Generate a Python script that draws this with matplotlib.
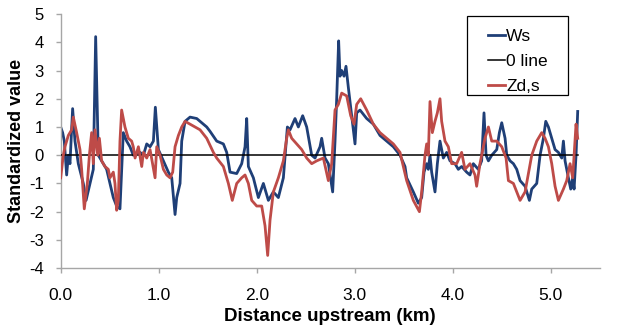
import matplotlib
matplotlib.use("Agg")
import matplotlib.pyplot as plt
from matplotlib.patches import Rectangle

plt.rcParams['font.family'] = ['Liberation Sans', 'DejaVu Sans']
plt.rcParams['axes.unicode_minus'] = False

ws_km = [0.000, 0.020, 0.037, 0.061, 0.078, 0.095, 0.122, 0.146, 0.180, 0.231, 0.259, 0.299, 0.333,
         0.357, 0.384, 0.435, 0.469, 0.503, 0.537, 0.571, 0.605, 0.639, 0.673, 0.707, 0.741, 0.810,
         0.844, 0.878, 0.912, 0.946, 0.966, 0.997, 1.048, 1.099, 1.133, 1.167, 1.184, 1.218, 1.235,
         1.269, 1.320, 1.388, 1.490, 1.523, 1.592, 1.660, 1.694, 1.728, 1.796, 1.847, 1.881, 1.898,
         1.915, 1.966, 2.017, 2.068, 2.119, 2.170, 2.221, 2.272, 2.313, 2.340, 2.391, 2.425, 2.469,
         2.510, 2.561, 2.595, 2.646, 2.663, 2.697, 2.731, 2.775, 2.799, 2.816, 2.836, 2.850, 2.867,
         2.891, 2.911, 2.935, 2.969, 3.003, 3.020, 3.054, 3.122, 3.190, 3.258, 3.326, 3.394, 3.462,
         3.513, 3.530, 3.598, 3.649, 3.683, 3.707, 3.734, 3.751, 3.768, 3.785, 3.819, 3.843, 3.870,
         3.904, 3.938, 3.972, 4.023, 4.057, 4.091, 4.142, 4.176, 4.210, 4.261, 4.295, 4.319, 4.340,
         4.364, 4.398, 4.449, 4.476, 4.500, 4.534, 4.551, 4.585, 4.619, 4.653, 4.687, 4.738, 4.782,
         4.806, 4.857, 4.891, 4.925, 4.949, 4.976, 5.010, 5.044, 5.078, 5.112, 5.129, 5.146, 5.180,
         5.204, 5.224, 5.238, 5.258, 5.275]
ws_val = [1.0, 0.8, 0.5, -0.7, 0.0, -0.3, 1.65, 0.5, -0.3, -1.0, -1.6, -1.0, -0.5,
          4.2, 0.0, -0.3, -0.5, -1.0, -1.5, -1.8, -1.9, 0.8, 0.5, 0.3, 0.0, 0.1,
          0.0, 0.4, 0.3, 0.5, 1.7, 0.2, -0.2, -0.6, -0.8, -2.1, -1.5, -1.0, 0.5,
          1.2, 1.35, 1.3, 1.0, 0.85, 0.5, 0.4, 0.1, -0.6, -0.65, -0.3, 0.3, 1.3,
          -0.4, -0.8, -1.5, -1.0, -1.6, -1.3, -1.5, -0.8, 1.0, 0.9, 1.3, 1.0, 1.4,
          1.0, 0.0, -0.1, 0.3, 0.6, -0.1, -0.3, -1.3, 0.5, 2.0, 4.05, 2.8, 3.0,
          2.8, 3.15, 2.4, 1.4, 0.4, 1.5, 1.6, 1.3, 1.1, 0.7, 0.5, 0.3, 0.0,
          -0.4, -0.8, -1.3, -1.7, -1.5, -0.6, -0.3, -0.5, 0.0, -0.6, -1.3, -0.3, 0.5,
          -0.1, 0.1, -0.2, -0.3, -0.5, -0.4, -0.6, -0.7, -0.3, -0.5, -0.2, 1.5, 0.0,
          -0.2, 0.0, 0.2, 0.8, 1.15, 0.6, 0.0, -0.2, -0.3, -0.5, -0.9, -1.1, -1.6,
          -1.2, -1.0, 0.0, 0.6, 1.2, 1.0, 0.6, 0.2, 0.1, -0.1, 0.5, -0.2, -0.8,
          -1.2, -0.8, -1.2, 0.0, 1.55]

zd_km = [0.000, 0.027, 0.044, 0.078, 0.112, 0.129, 0.163, 0.197, 0.214, 0.241, 0.272, 0.293, 0.316,
         0.333, 0.350, 0.378, 0.395, 0.418, 0.452, 0.486, 0.503, 0.537, 0.554, 0.571, 0.588, 0.605,
         0.622, 0.656, 0.690, 0.724, 0.741, 0.759, 0.793, 0.827, 0.844, 0.878, 0.912, 0.963, 0.980,
         1.014, 1.048, 1.082, 1.116, 1.143, 1.167, 1.201, 1.235, 1.269, 1.320, 1.422, 1.490, 1.558,
         1.592, 1.660, 1.711, 1.751, 1.796, 1.847, 1.881, 1.915, 1.949, 2.000, 2.051, 2.085, 2.112,
         2.136, 2.170, 2.221, 2.272, 2.306, 2.323, 2.357, 2.408, 2.459, 2.510, 2.561, 2.612, 2.680,
         2.731, 2.765, 2.799, 2.833, 2.867, 2.918, 2.959, 2.993, 3.020, 3.061, 3.122, 3.190, 3.258,
         3.326, 3.394, 3.462, 3.530, 3.598, 3.660, 3.683, 3.717, 3.734, 3.751, 3.768, 3.792, 3.819,
         3.843, 3.870, 3.887, 3.921, 3.955, 3.989, 4.040, 4.091, 4.125, 4.176, 4.227, 4.244, 4.278,
         4.329, 4.364, 4.398, 4.449, 4.500, 4.544, 4.568, 4.619, 4.653, 4.687, 4.738, 4.806, 4.857,
         4.908, 4.942, 4.976, 5.010, 5.044, 5.078, 5.129, 5.163, 5.197, 5.224, 5.238, 5.258, 5.275]
zd_val = [-0.8, 0.0, 0.3, 0.7, 0.9, 1.35, 0.8, 0.2, -0.5, -1.9, -1.0, 0.0, 0.8,
          -0.3, 0.9, 0.0, 0.6, -0.2, -0.4, -0.5, -0.8, -0.6, -1.0, -1.95, -1.6, 0.5,
          1.6, 1.0, 0.6, 0.5, 0.3, -0.1, 0.3, -0.4, 0.1, -0.1, 0.2, -0.8, 0.3,
          0.0, -0.5, -0.7, -0.8, -0.6, 0.3, 0.7, 1.0, 1.2, 1.1, 0.9, 0.6, 0.1,
          -0.1, -0.4, -1.0, -1.6, -1.0, -0.8, -0.7, -1.0, -1.6, -1.8, -1.8, -2.5, -3.55,
          -2.3, -1.3, -0.8, -0.2, 0.6, 0.9, 0.6, 0.4, 0.2, -0.1, -0.3, -0.2, -0.1,
          -0.9, -0.3, 1.6, 1.8, 2.2, 2.1, 1.4, 1.1, 1.8, 2.0, 1.6, 1.1, 0.8,
          0.6, 0.4, 0.1, -0.9, -1.6, -2.0, -1.3, 0.0, 0.4, 0.0, 1.9, 0.8, 1.2,
          1.5, 2.0, 1.2, 0.5, 0.3, -0.3, -0.3, 0.1, -0.5, -0.3, -0.7, -1.1, -0.3,
          0.6, 1.0, 0.5, 0.5, 0.3, -0.1, -0.9, -1.0, -1.3, -1.6, -1.3, 0.0, 0.5,
          0.8, 0.6, 0.3, -0.3, -1.1, -1.6, -1.2, -0.9, -0.3, -0.8, 0.0, 1.1, 0.6]

zero_km = [0.0, 5.28]
zero_val = [0.0, 0.0]

x_ticks = [0.0, 1.0, 2.0, 3.0, 4.0, 5.0]
x_ticklabels = ["0.0", "1.0", "2.0", "3.0", "4.0", "5.0"]
y_ticks = [-4, -3, -2, -1, 0, 1, 2, 3, 4, 5]

fig = plt.figure(figsize=(6.3, 3.27), dpi=100)
ax = fig.add_axes([0.0963, 0.180, 0.952 - 0.0963, 0.957 - 0.180])

ax.plot(ws_km, ws_val, color="#1F3F77", lw=2.0, label="Ws", zorder=2)
ax.plot(zero_km, zero_val, color="black", lw=1.1, label="0 line", zorder=3)
ax.plot(zd_km, zd_val, color="#BE4B48", lw=2.0, label="Zd,s", zorder=4)

ax.set_xlim(0, 5.5)
ax.set_ylim(-4, 5)
ax.set_xticks(x_ticks)
ax.set_xticklabels(x_ticklabels)
ax.set_yticks(y_ticks)

for s in ["top", "right"]:
    ax.spines[s].set_visible(False)
for s in ["left", "bottom"]:
    ax.spines[s].set_color("#A6A6A6")
    ax.spines[s].set_linewidth(1.0)
ax.tick_params(axis="both", direction="out", color="#A6A6A6", length=3.6, width=1.0)
ax.tick_params(axis="y", labelsize=12, pad=8.5)
ax.tick_params(axis="x", labelsize=12.5, pad=11)

ax.set_xlabel("Distance upstream (km)", fontsize=13.5, fontweight="bold", labelpad=3)
ax.set_ylabel("Standardized value", fontsize=13, fontweight="bold")
ax.yaxis.set_label_coords(-0.066, 0.5)

leg = ax.legend(loc="upper left", bbox_to_anchor=(0.7923, 0.941), fontsize=12.5,
                frameon=False, handlelength=1.0, handletextpad=0.05,
                borderpad=0.0, labelspacing=0.57, borderaxespad=0)
leg.set_zorder(10)

fig.canvas.draw()
bb = leg.get_window_extent()
pad_l, pad_r, pad_t, pad_b = 21, 20, 13, 1
x0 = (bb.x0 - pad_l) / fig.bbox.width
x1 = (bb.x1 + pad_r) / fig.bbox.width
y0 = (bb.y0 - pad_b) / fig.bbox.height
y1 = (bb.y1 + pad_t) / fig.bbox.height
frame = Rectangle((x0, y0), x1 - x0, y1 - y0, transform=fig.transFigure,
                  facecolor="white", edgecolor="black", lw=0.9, zorder=9, clip_on=False)
ax.add_artist(frame)

fig.savefig("out.png", dpi=100)
